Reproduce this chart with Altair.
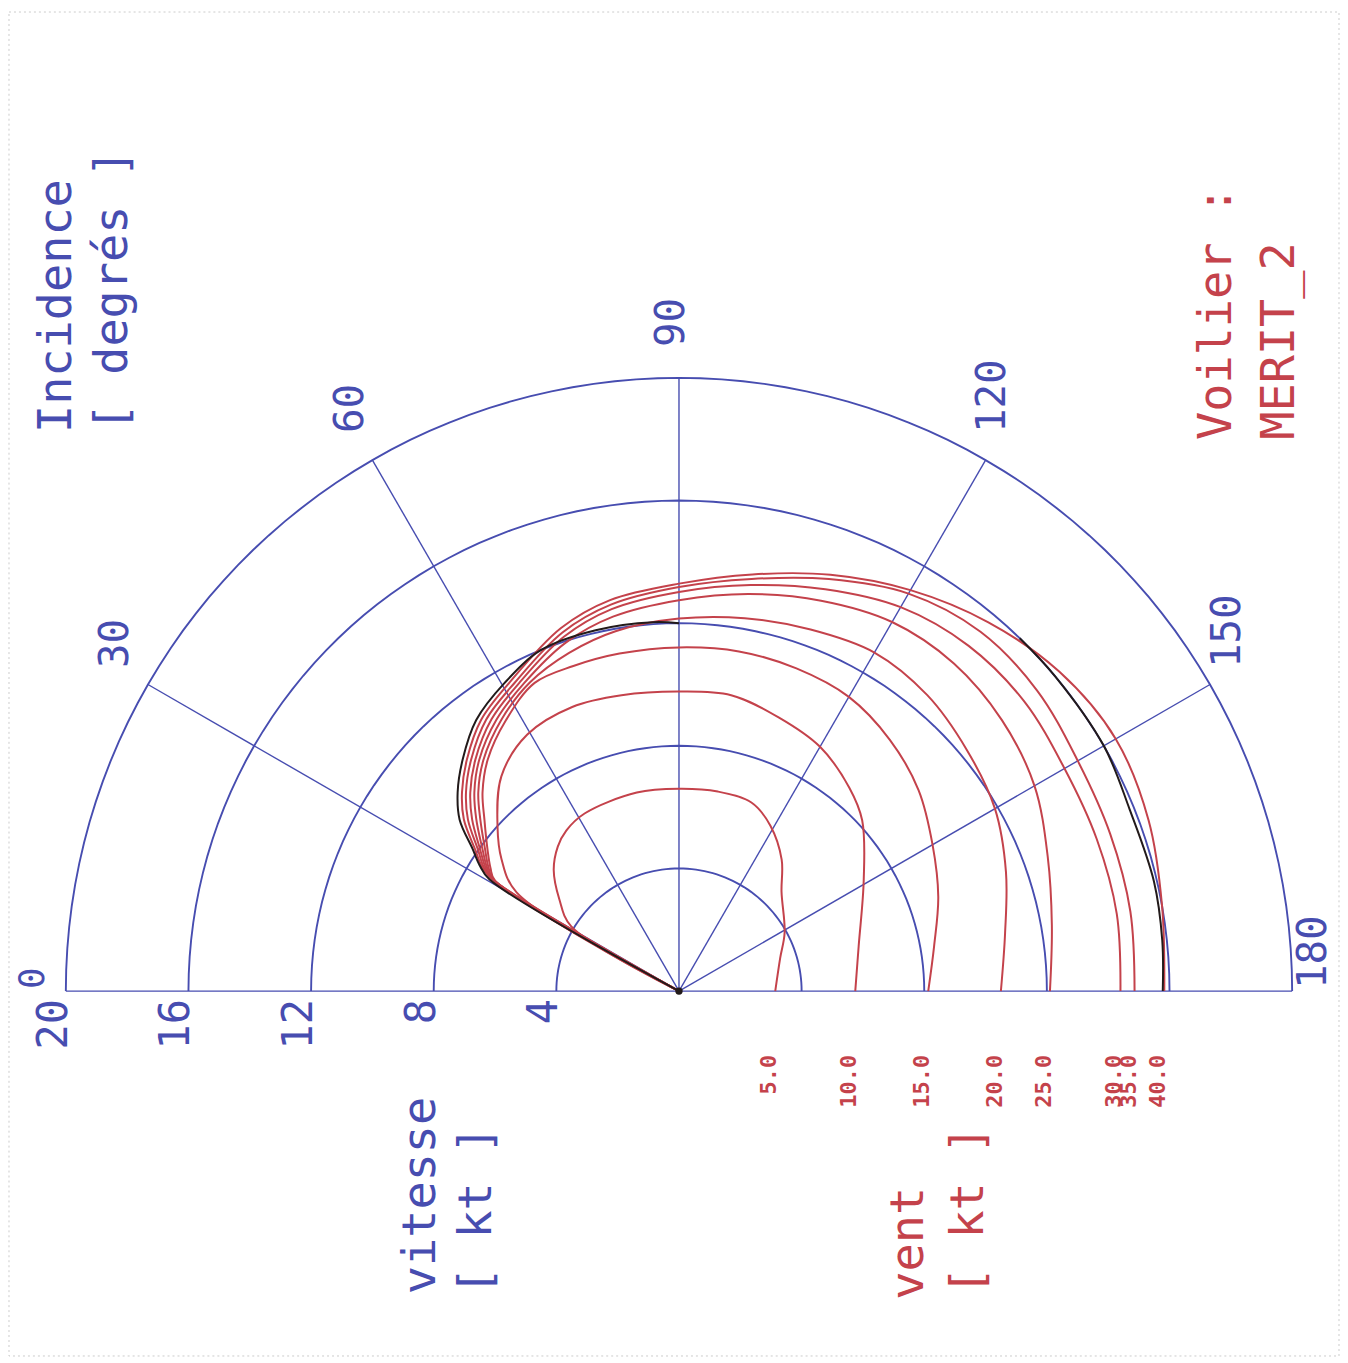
import altair as alt
import pandas as pd

# ---------------- data ----------------
ring_speeds = [4, 8, 12, 16, 20]
speed_labels = ["20", "16", "12", "8", "4"]
speed_label_values = [20, 16, 12, 8, 4]
radial_angles = [0, 30, 60, 90, 120, 150, 180]
angle_labels = ["0", "30", "60", "90", "120", "150", "180"]

wind_speeds = [5, 10, 15, 20, 25, 30, 35, 40]

angles_5 = [31, 31, 37.5, 44, 50, 55, 62, 78, 90, 101, 111, 119, 128, 136, 151, 162, 180]
speeds_5 = [0, 4.1, 4.92, 5.68, 6.15, 6.4, 6.56, 6.62, 6.60, 6.63, 6.59, 6.16, 5.44, 4.65, 3.94, 3.47, 3.14]

angles_10 = [31, 31.3, 36.6, 42.2, 50.4, 59.4, 69.4, 79, 90, 100, 110, 120, 130, 137, 149, 166, 180]
speeds_10 = [0, 6.2, 7.21, 7.99, 9.09, 9.72, 9.9, 9.83, 9.77, 9.8, 9.5, 9.2, 8.65, 8.17, 7.03, 6.04, 5.75]

angles_15 = [31, 31, 33.2, 36.5, 41.4, 45.3, 50.4, 57.5, 64.9, 72, 80, 90, 100, 110, 120, 130, 140, 150, 160, 170, 180]
speeds_15 = [0, 7.0, 7.35, 7.77, 8.46, 9.11, 9.79, 10.49, 11.1, 11.15, 11.18, 11.21, 11.25, 11.2, 11.08, 10.7, 10.2, 9.55, 9.0, 8.45, 8.13]

angles_20 = [31, 31, 33.0, 36.2, 40.8, 44.7, 49.8, 56.8, 64.2, 72, 80, 90, 100, 110, 120, 130, 140, 150, 160, 170, 180]
speeds_20 = [0, 7.05, 7.41, 7.84, 8.56, 9.21, 9.88, 10.58, 11.18, 11.6, 11.92, 12.15, 12.35, 12.55, 12.75, 12.6, 12.25, 11.9, 11.35, 10.8, 10.5]

angles_25 = [31, 31, 32.9, 35.8, 40.3, 44.2, 49.2, 56.1, 63.4, 72, 80, 90, 100, 110, 120, 130, 140, 150, 160, 170, 180]
speeds_25 = [0, 7.1, 7.47, 7.9, 8.67, 9.31, 9.97, 10.67, 11.25, 11.95, 12.4, 12.75, 13.15, 13.55, 13.9, 13.95, 13.75, 13.39, 12.8, 12.35, 12.1]

angles_30 = [31, 31, 32.75, 35.5, 39.7, 43.6, 48.7, 55.4, 62.7, 72, 80, 90, 100, 110, 120, 130, 140, 150, 160, 170, 180]
speeds_30 = [0, 7.1, 7.52, 7.97, 8.77, 9.4, 10.06, 10.77, 11.33, 12.15, 12.65, 13.02, 13.45, 13.95, 14.46, 14.7, 14.7, 14.52, 14.5, 14.5, 14.4]

angles_35 = [31, 31, 32.6, 35.2, 39.1, 43.0, 48.1, 54.6, 62.0, 72, 80, 90, 100, 110, 120, 130, 140, 150, 160, 170, 180]
speeds_35 = [0, 7.15, 7.58, 8.03, 8.87, 9.5, 10.15, 10.86, 11.4, 12.3, 12.8, 13.18, 13.65, 14.3, 14.97, 15.3, 15.25, 15.02, 14.97, 14.95, 14.86]

angles_40 = [31, 31, 32.45, 34.8, 38.6, 42.5, 47.5, 53.9, 61.2, 72, 80, 90, 100, 110, 120, 130, 140, 150, 160, 170, 180]
speeds_40 = [0, 7.15, 7.64, 8.1, 8.98, 9.6, 10.24, 10.95, 11.48, 12.45, 12.95, 13.29, 13.8, 14.45, 15.1, 15.7, 16.2, 16.45, 16.3, 16.0, 15.83]

black_a_angles = [30.5, 30.5, 32.3, 34.5, 38, 41.9, 46.9, 53.2, 60.5, 68, 77, 86, 90]
black_a_speeds = [0, 7.17, 7.7, 8.16, 9.08, 9.70, 10.33, 11.04, 11.55, 12.0, 12.08, 12.06, 12.0]
black_b_angles = [134, 140, 150, 158, 167, 174, 180]
black_b_speeds = [16.0, 16.0, 16.0, 15.85, 15.9, 15.85, 15.78]

# ---------------- layout ----------------
PX = 30.75            # pixels per knot
W, H = 1330, 1340
CX, CY = 672, 984     # pole in plot-area pixels
XDOM = [-CX / PX, (W - CX) / PX]
YDOM = [-(H - CY) / PX, CY / PX]

BLUE = "#474db0"
RED = "#c4424b"
BLACK = "#221a1a"
FONT = "DejaVu Sans Mono"


def xy():
    return dict(
        x=alt.X("px:Q", scale=alt.Scale(domain=XDOM, nice=False, zero=False), axis=None),
        y=alt.Y("py:Q", scale=alt.Scale(domain=YDOM, nice=False, zero=False), axis=None),
    )


def to_xy(ch):
    return ch.transform_calculate(
        px="-datum.speed*cos(datum.angle*PI/180)",
        py="datum.speed*sin(datum.angle*PI/180)",
    )


# grid rings (semicircles)
ring_rows = []
for r in ring_speeds:
    for k, a in enumerate(range(0, 181, 2)):
        ring_rows.append({"ring": r, "i": k, "angle": a, "speed": r})
rings_df = pd.DataFrame(ring_rows)

radial_rows = []
for a in radial_angles:
    radial_rows.append({"ray": a, "i": 0, "angle": a, "speed": 0})
    radial_rows.append({"ray": a, "i": 1, "angle": a, "speed": 20})
radials_df = pd.DataFrame(radial_rows)

# polar curves
curve_rows = []
series = [
    (5, angles_5, speeds_5), (10, angles_10, speeds_10),
    (15, angles_15, speeds_15), (20, angles_20, speeds_20),
    (25, angles_25, speeds_25), (30, angles_30, speeds_30),
    (35, angles_35, speeds_35), (40, angles_40, speeds_40),
]
for w, aa, ss in series:
    for k, (a, s) in enumerate(zip(aa, ss)):
        curve_rows.append({"wind": w, "i": k, "angle": a, "speed": s})
curves_df = pd.DataFrame(curve_rows)

black_rows = []
for seg, aa, ss in (("a", black_a_angles, black_a_speeds), ("b", black_b_angles, black_b_speeds)):
    for k, (a, s) in enumerate(zip(aa, ss)):
        black_rows.append({"seg": seg, "i": k, "angle": a, "speed": s})
black_df = pd.DataFrame(black_rows)

alabels_df = pd.DataFrame({"angle": radial_angles, "label": angle_labels})
slabels_df = pd.DataFrame({"speed": speed_label_values, "label": speed_labels})

# ---------------- layers ----------------
frame = alt.Chart(pd.DataFrame({"a": [0]})).mark_rect(
    fill=None, stroke="#cccccc", strokeWidth=1, strokeDash=[2, 3]
).encode(x=alt.value(0), x2=alt.value(W + 4), y=alt.value(2), y2=alt.value(H + 10))

rings = to_xy(alt.Chart(rings_df)).mark_line(color=BLUE, strokeWidth=1.9).encode(
    **xy(), detail="ring:N", order="i:Q")

radials = to_xy(alt.Chart(radials_df)).mark_line(color=BLUE, strokeWidth=1.4).encode(
    **xy(), detail="ray:N", order="i:Q")

curves = to_xy(alt.Chart(curves_df)).mark_line(
    color=RED, strokeWidth=2, interpolate="catmull-rom").encode(
    **xy(), detail="wind:N", order="i:Q")

black = to_xy(alt.Chart(black_df)).mark_line(
    color=BLACK, strokeWidth=2, interpolate="catmull-rom").encode(
    **xy(), detail="seg:N", order="i:Q")

pole = alt.Chart(pd.DataFrame({"angle": [0], "speed": [0]})).transform_calculate(
    px="0", py="0").mark_point(filled=True, color=BLACK, size=55, opacity=1).encode(**xy())

angle_text = alt.Chart(alabels_df).transform_filter("datum.angle > 0").transform_calculate(
    px=f"-20.94*cos(datum.angle*PI/180) - 7/{PX}",
    py=f"20.94*sin(datum.angle*PI/180) + 2/{PX}",
).mark_text(angle=270, align="left", baseline="middle", font=FONT, fontSize=41,
            color=BLUE).encode(**xy(), text="label:N")

angle_zero = alt.Chart(alabels_df).transform_filter("datum.angle == 0").transform_calculate(
    px=f"-20.94 - 4/{PX}",
    py=f"2/{PX}",
).mark_text(angle=270, align="left", baseline="middle", font=FONT, fontSize=36,
            color=BLUE).encode(**xy(), text="label:N")

speed_text = alt.Chart(slabels_df).transform_calculate(
    px=f"-datum.speed - 12/{PX}",
    py=f"-8/{PX}",
).mark_text(angle=270, align="right", baseline="middle", font=FONT, fontSize=42,
            color=BLUE).encode(**xy(), text="label:N")

wind_text = alt.Chart(curves_df).transform_filter("datum.angle == 180").transform_calculate(
    label="format(datum.wind, '.1f')",
    px=f"datum.speed - 6/{PX}",
    py=f"-64/{PX}",
).mark_text(angle=270, align="right", baseline="middle", font=FONT, fontSize=22,
            fontWeight="bold", color=RED).encode(**xy(), text="label:N")


def title(txt, px, py, color):
    return alt.Chart(pd.DataFrame({"t": [txt]})).mark_text(
        angle=270, align="center", baseline="middle", font=FONT, fontSize=47, color=color
    ).encode(x=alt.value(px - 8), y=alt.value(py - 8), text="t:N")


titles = [
    title("Incidence", 56, 305, BLUE),
    title("[ degrés ]", 112, 289, BLUE),
    title("Voilier :", 1220, 312, RED),
    title("MERIT_2", 1283, 340, RED),
    title("vitesse", 421, 1197, BLUE),
    title("[ kt ]", 477, 1212, BLUE),
    title("vent", 911, 1245, RED),
    title("[ kt ]", 971, 1212, RED),
]

chart = alt.layer(
    frame, rings, radials, curves, black, pole, angle_text, angle_zero, speed_text,
    wind_text, *titles
).properties(width=W, height=H, padding=0, background="white").configure_view(stroke=None)

chart.save("out.html", embed_options={"renderer": "svg", "actions": False})
